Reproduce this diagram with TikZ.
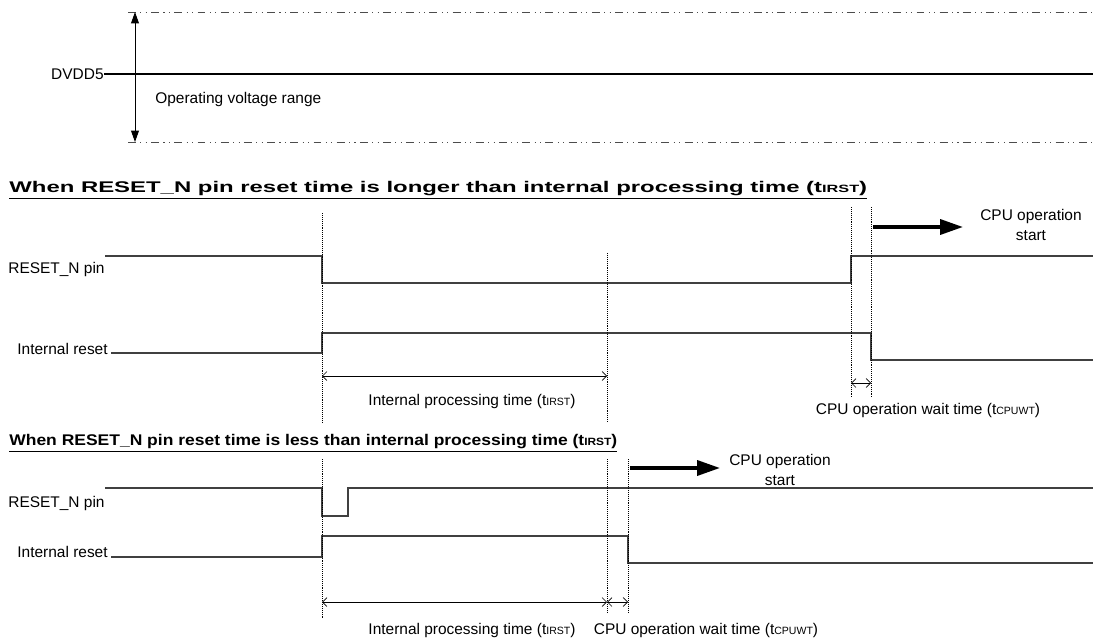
\documentclass[tikz,border=0pt]{standalone}
\usepackage{fontspec}
\setmainfont{Liberation Sans}
\usetikzlibrary{arrows.meta}

\newcommand{\tsmall}[1]{{\fontsize{6}{6}\selectfont #1}}

\begin{document}
\begin{tikzpicture}[x=0.02cm,y=-0.02cm,
  every node/.style={font=\fontsize{8.8}{11.3}\selectfont, inner sep=0pt},
  heading/.style={font=\fontsize{8.8}{10}\selectfont\bfseries, anchor=west},
  signal/.style={black!75, line width=0.7pt},
  guide/.style={line width=0.4pt, dash pattern=on 0.5pt off 0.6pt},
  limit/.style={black!70, line width=0.5pt,
    dash pattern=on 4.5pt off 2.5pt on 0.6pt off 2.5pt on 0.6pt off 2.5pt},
  span/.style={line width=0.4pt,
    {Straight Barb[length=2.5pt,width=5pt]}-{Straight Barb[length=2.5pt,width=5pt]}},
  startarrow/.style={line width=2pt, -{Triangle[length=13pt,width=8.5pt]}}]

\useasboundingbox (0,0) rectangle (1093,639);

% operating range
\coordinate (rtop) at (135,12);
\coordinate (rbot) at (135,142);
\draw [limit] (128,12) -- (1093,12);
\draw [limit] (128,142) -- (1093,142);
\draw [line width=0.5pt, {Triangle[length=6.5pt,width=4.5pt]}-{Triangle[length=6.5pt,width=4.5pt]}] (rtop) -- (rbot);

\node [anchor=east] (dvdd) at (104,74) {DVDD5};
\draw [line width=0.8pt] (dvdd.east) -- (1093,74);
\node [anchor=west] (oprange) at (155,100) {Operating voltage range};


% case 1 : long reset
\node [heading] (titleA) at (9,190)
  {\resizebox{17.16cm}{\height}{\underline{When RESET\_N pin reset time is longer than internal processing time (t\tsmall{IRST})}}};

\node [anchor=west] (pinA) at (8,270) {RESET\_N pin};
\node [anchor=east] (irstA) at (108,349) {Internal reset};

\draw [signal] (105,256) -- (322,256) -- (322,283) -- (851,283) -- (851,256) -- (1093,256);
\draw [signal] (111,353) -- (322,353) -- (322,333) -- (871,333) -- (871,360) -- (1093,360);

\coordinate (a0t) at (322,213);  \coordinate (a0b) at (322,423);
\coordinate (a1t) at (607,253);  \coordinate (a1b) at (607,423);
\coordinate (a2t) at (851,207);  \coordinate (a2b) at (851,398);
\coordinate (a3t) at (871,207);  \coordinate (a3b) at (871,398);
\draw [guide] (a0t) -- (a0b);
\draw [guide] (a1t) -- (a1b);
\draw [guide] (a2t) -- (a2b);
\draw [guide] (a3t) -- (a3b);

\draw [span] (a0t |- 0,376) -- (a1t |- 0,376);
\draw [span] (a2t |- 0,383) -- (a3t |- 0,383);

\node (procA) at (472,402) {Internal processing time (t\tsmall{IRST})};
\node (waitA) at (928,410) {CPU operation wait time (t\tsmall{CPUWT})};

\node [align=center] (cpuA) at (1031,225) {CPU operation\\start};
\draw [startarrow] (873,227) -- (963,227);


% case 2 : short reset
\node [heading] (titleB) at (9,443)
  {\resizebox{12.16cm}{\height}{\underline{When RESET\_N pin reset time is less than internal processing time (t\tsmall{IRST})}}};

\node [anchor=west] (pinB) at (8,503) {RESET\_N pin};
\node [anchor=east] (irstB) at (108,552) {Internal reset};

\draw [signal] (105,488) -- (322,488) -- (322,516) -- (348,516) -- (348,488) -- (1093,488);
\draw [signal] (111,557) -- (322,557) -- (322,536) -- (628,536) -- (628,563) -- (1093,563);

\coordinate (b0t) at (322,459);  \coordinate (b0b) at (322,618);
\coordinate (b1t) at (607,459);  \coordinate (b1b) at (607,613);
\coordinate (b2t) at (628,459);  \coordinate (b2b) at (628,613);
\draw [guide] (b0t) -- (b0b);
\draw [guide] (b1t) -- (b1b);
\draw [guide] (b2t) -- (b2b);

\draw [span] (b0t |- 0,602) -- (b1t |- 0,602);
\draw [span] (b1t |- 0,602) -- (b2t |- 0,602);

\node (procB) at (472,630) {Internal processing time (t\tsmall{IRST})};
\node (waitB) at (706,630) {CPU operation wait time (t\tsmall{CPUWT})};

\node [align=center] (cpuB) at (780,470) {CPU operation\\start};
\draw [startarrow] (630,468) -- (720,468);

\end{tikzpicture}
\end{document}
